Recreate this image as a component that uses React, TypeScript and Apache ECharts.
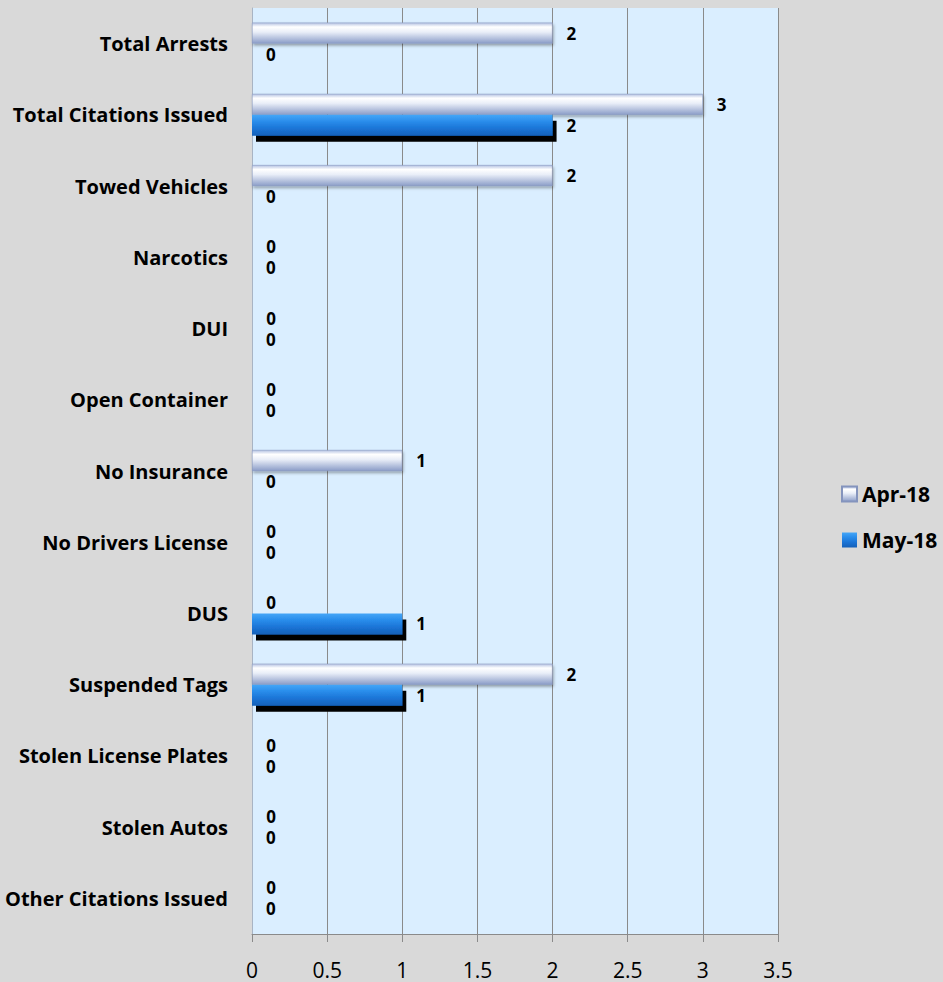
import React, { useEffect, useRef } from "react";
import * as echarts from "echarts";

const categories = [
  "Total Arrests",
  "Total Citations Issued",
  "Towed Vehicles",
  "Narcotics",
  "DUI",
  "Open Container",
  "No Insurance",
  "No Drivers License",
  "DUS",
  "Suspended Tags",
  "Stolen License Plates",
  "Stolen Autos",
  "Other Citations Issued",
];
const apr18 = [2, 3, 2, 0, 0, 0, 1, 0, 0, 2, 0, 0, 0];
const may18 = [0, 2, 0, 0, 0, 0, 0, 0, 1, 1, 0, 0, 0];
const seriesNames = ["Apr-18", "May-18"];

export default function App() {
  const ref = useRef<HTMLDivElement>(null);
  useEffect(() => {
    if (!ref.current) return;
    const chart = echarts.init(ref.current, null, { renderer: "svg" });
    const font = "'Open Sans', 'Noto Sans', sans-serif";
    const aprColor = new echarts.graphic.LinearGradient(0, 0, 0, 1, [
      { offset: 0, color: "#b4c2e2" },
      { offset: 0.2, color: "#ffffff" },
      { offset: 0.45, color: "#e9eef8" },
      { offset: 1, color: "#8b9dc8" },
    ]);
    const mayColor = new echarts.graphic.LinearGradient(0, 0, 0, 1, [
      { offset: 0, color: "#45a6f7" },
      { offset: 0.3, color: "#2a8eec" },
      { offset: 0.65, color: "#1b74d6" },
      { offset: 1, color: "#1560b8" },
    ]);
    const label = {
      show: true,
      position: "right" as const,
      distance: 14,
      fontSize: 17,
      fontWeight: "bold" as const,
      color: "#000",
      fontFamily: font,
    };
    chart.setOption({
      animation: false,
      backgroundColor: "#d9d9d9",
      textStyle: { fontFamily: font },
      grid: {
        left: 252,
        top: 8,
        width: 526,
        height: 926,
        show: true,
        backgroundColor: "#daeeff",
        borderColor: "#8a8a8a",
        borderWidth: 0,
      },
      legend: {
        orient: "vertical",
        left: 836,
        top: 478,
        itemWidth: 15,
        itemHeight: 15,
        itemGap: 24,
        icon: "rect",
        data: seriesNames,
        textStyle: {
          fontSize: 21,
          lineHeight: 22,
          fontWeight: "bold",
          color: "#000",
          fontFamily: font,
        },
      },
      xAxis: {
        type: "value",
        min: 0,
        max: 3.5,
        interval: 0.5,
        axisLine: { show: true, lineStyle: { color: "#8a8a8a", width: 1 } },
        axisTick: { show: true, length: 8, lineStyle: { color: "#8a8a8a" } },
        splitLine: { show: true, lineStyle: { color: "#8a8a8a", width: 1 } },
        axisLabel: {
          fontSize: 21,
          lineHeight: 21,
          color: "#000",
          margin: 25,
          fontFamily: font,
        },
      },
      yAxis: {
        type: "category",
        inverse: true,
        data: categories,
        axisLine: { show: true, lineStyle: { color: "#a8b4c4", width: 1 } },
        axisTick: { show: false },
        axisLabel: {
          fontSize: 20,
          fontWeight: "bold",
          color: "#000",
          margin: 24,
          fontFamily: font,
        },
      },
      series: [
        {
          name: seriesNames[0],
          type: "bar",
          data: apr18,
          barWidth: 21,
          barGap: "0%",
          itemStyle: {
            color: aprColor,
            borderColor: "#8494bd",
            borderWidth: 0.5,
            shadowColor: "rgba(0,0,0,0.35)",
            shadowBlur: 3,
            shadowOffsetX: 1,
            shadowOffsetY: 2,
          },
          label,
        },
        {
          name: seriesNames[1],
          type: "bar",
          data: may18,
          barWidth: 21,
          barGap: "0%",
          itemStyle: {
            color: mayColor,
            shadowColor: "#000",
            shadowBlur: 0,
            shadowOffsetX: 4,
            shadowOffsetY: 6,
          },
          label,
        },
      ],
    });
    return () => chart.dispose();
  }, []);
  return (
    <div
      ref={ref}
      style={{ position: "fixed", left: 0, top: 0, width: 943, height: 982 }}
    />
  );
}
